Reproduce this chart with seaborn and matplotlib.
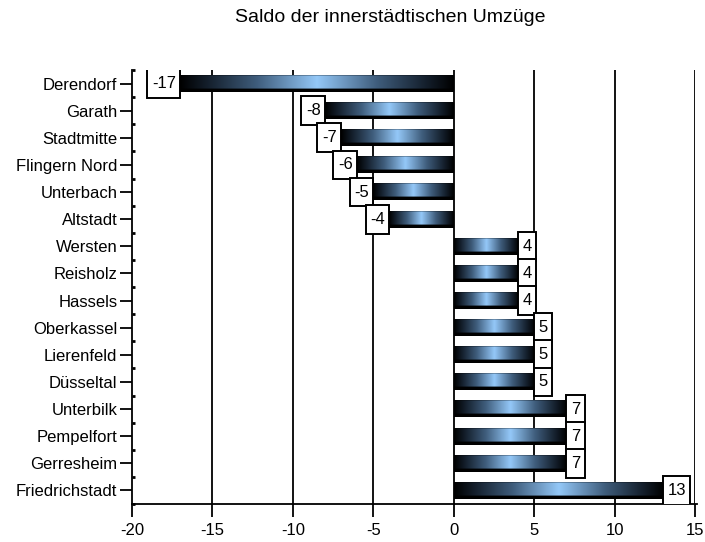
import numpy as np
import pandas as pd
import matplotlib
matplotlib.use("Agg")
import matplotlib.pyplot as plt
import seaborn as sns
from matplotlib.patches import Rectangle
from matplotlib.colors import to_rgb

districts = ["Derendorf", "Garath", "Stadtmitte", "Flingern Nord", "Unterbach",
             "Altstadt", "Wersten", "Reisholz", "Hassels", "Oberkassel",
             "Lierenfeld", "Düsseltal", "Unterbilk", "Pempelfort", "Gerresheim",
             "Friedrichstadt"]
saldo = [-17, -8, -7, -6, -5, -4, 4, 4, 4, 5, 5, 5, 7, 7, 7, 13]
x_ticks = [-20, -15, -10, -5, 0, 5, 10, 15]
title = "Saldo der innerstädtischen Umzüge"

df = pd.DataFrame({"Stadtteil": districts, "Saldo": saldo})

sns.set_theme(style="white", rc={"text.color": "black",
                                 "xtick.color": "black", "ytick.color": "black",
                                 "axes.labelcolor": "black"})
plt.rcParams["font.family"] = ["Liberation Sans", "DejaVu Sans"]

fig = plt.figure(figsize=(7.05, 5.42), dpi=100)
ax = fig.add_axes([132 / 705, 1 - 504 / 542, (695 - 132) / 705, (504 - 70) / 542])

sns.barplot(data=df, x="Saldo", y="Stadtteil", orient="h", ax=ax,
            width=0.62, color="#6f9cc8", saturation=1, edgecolor="none")

ax.set_xlim(-20, 15)
ax.set_ylim(len(districts) - 0.5, -0.5)
ax.set_xticks(x_ticks)
ax.set_xticklabels([str(v) for v in x_ticks])
ax.set_xlabel("")
ax.set_ylabel("")

# vertical grid lines at the major x ticks
for v in x_ticks[1:]:
    ax.axvline(v, color="black", lw=1.3, zorder=1)

for side in ["top", "right"]:
    ax.spines[side].set_visible(False)
for side in ["left", "bottom"]:
    ax.spines[side].set_color("black")
    ax.spines[side].set_linewidth(1.3)
ax.spines["bottom"].set_bounds(-20, 15.15)

ax.tick_params(axis="x", which="major", direction="out", length=9, width=1.3,
               color="black", labelcolor="black", labelsize=12, pad=5, bottom=True)
ax.tick_params(axis="y", which="major", direction="out", length=9, width=1.3,
               color="black", labelcolor="black", labelsize=12, pad=1.5, left=True)
ax.set_yticks(np.arange(-0.5, len(districts), 1.0), minor=True)
ax.tick_params(axis="y", which="minor", direction="in", length=2.2, width=2,
               color="black", left=True)

# metallic gradient fill: dark at both ends, light blue in the middle,
# with a dark shadow strip along the lower edge
stops = [(0.0, "#000000"), (0.1, "#141f2c"), (0.28, "#3f5d7c"),
         (0.5, "#94c8f8"), (0.72, "#3f5d7c"), (0.9, "#141f2c"), (1.0, "#000000")]
n_cols, n_rows = 256, 40
t = np.linspace(0, 1, n_cols)
pos = [s[0] for s in stops]
rgb = np.array([to_rgb(s[1]) for s in stops])
row = np.stack([np.interp(t, pos, rgb[:, k]) for k in range(3)], axis=1)
grad = np.repeat(row[None, :, :], n_rows, axis=0)
grad[-8:, :, :] = 0.0          # bottom shadow
grad[:1, :, :] *= 0.35          # thin dark top edge

for patch in ax.patches:
    x0, y0 = patch.get_x(), patch.get_y()
    w, h = patch.get_width(), patch.get_height()
    patch.set_facecolor("none")
    xl, xr = min(x0, x0 + w), max(x0, x0 + w)
    yt, yb = min(y0, y0 + h), max(y0, y0 + h)
    ax.imshow(grad, extent=[xl, xr, yb, yt], aspect="auto",
              interpolation="bilinear", zorder=2)

ax.set_xlim(-20, 15)
ax.set_ylim(len(districts) - 0.5, -0.5)

# value labels in framed white boxes at the bar ends
fig.canvas.draw()
renderer = fig.canvas.get_renderer()
inv = ax.transData.inverted()
pad_px = 4.5
px_per_unit = ax.transData.transform((1, 0))[0] - ax.transData.transform((0, 0))[0]
off = pad_px / px_per_unit
for i, v in enumerate(saldo):
    if v < 0:
        txt = ax.text(v - off, i, str(v), ha="right", va="center", fontsize=12,
                      color="black", zorder=5)
    else:
        txt = ax.text(v + off, i, str(v), ha="left", va="center", fontsize=12,
                      color="black", zorder=5)
    bb = txt.get_window_extent(renderer)
    (a, _), (b, _) = inv.transform([(bb.x0, 0), (bb.x1, 0)])
    wd = (b - a) + 2 * off
    x_left = v - wd if v < 0 else v
    ax.add_patch(Rectangle((x_left, i - 0.53), wd, 1.06, facecolor="white",
                           edgecolor="black", lw=1.4, zorder=4))

fig.text(390 / 705, 1 - 18 / 542, title, ha="center", va="center", fontsize=14,
         color="black")

fig.savefig("out.png", dpi=100)
